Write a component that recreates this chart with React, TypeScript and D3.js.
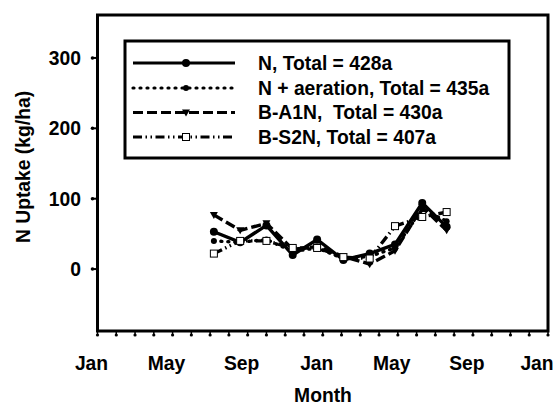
import React from "react";
import * as d3 from "d3";

const monthPos = [6.2, 7.6, 9.0, 10.4, 11.7, 13.1, 14.5, 15.85, 17.3, 18.6];
const seriesN = [53, 38, 62, 20, 42, 13, 22, 35, 94, 60];
const seriesNAer = [40, 38, 42, 25, 30, 15, 18, 30, 85, 68];
const seriesBA1N = [77, 55, 65, 28, 32, 18, 7, 26, 88, 55];
const seriesBS2N = [22, 40, 40, 30, 30, 17, 15, 61, 74, 81];
const xTickLabels = ["Jan", "May", "Sep", "Jan", "May", "Sep", "Jan"];
const yTicks = [0, 100, 200, 300];
const legendLabels = [
  "N, Total = 428a",
  "N + aeration, Total = 435a",
  "B-A1N,  Total = 430a",
  "B-S2N, Total = 407a",
];

const W = 560, H = 407;
const L = 97.5, R = 548, T = 15, B = 331;
const FONT = "'Liberation Sans', Arial, sans-serif";
const FS = 19.3;

type Style = { dash: string; cap: "round" | "butt"; marker: "circle" | "smallcircle" | "tri" | "square" };
const styles: Style[] = [
  { dash: "none", cap: "butt", marker: "circle" },
  { dash: "1,6", cap: "round", marker: "smallcircle" },
  { dash: "10,4", cap: "butt", marker: "tri" },
  { dash: "9,3.5,1.5,3.5,1.5,3.5", cap: "butt", marker: "square" },
];

function Marker({ kind, x, y }: { kind: Style["marker"]; x: number; y: number }) {
  if (kind === "circle") return <circle cx={x} cy={y} r={4} fill="#000" />;
  if (kind === "smallcircle") return <circle cx={x} cy={y} r={3} fill="#000" />;
  if (kind === "tri")
    return <path d={`M${x - 4},${y - 3} L${x + 4},${y - 3} L${x},${y + 4} Z`} fill="#000" />;
  return <rect x={x - 3.5} y={y - 3.5} width={7} height={7} fill="#fff" stroke="#000" strokeWidth={1} />;
}

export default function App() {
  const x = d3.scaleLinear().domain([0, 24]).range([L, R]);
  const y = d3.scaleLinear().domain([-88, 361]).range([B, T]);
  const all = [seriesN, seriesNAer, seriesBA1N, seriesBS2N];
  const line = d3
    .line<number>()
    .x((_, i) => x(monthPos[i]))
    .y((d) => y(d));
  const months = d3.range(0, 25);
  const legY = [63, 88, 112.5, 137];

  return (
    <svg width={W} height={H} style={{ position: "absolute", left: 0, top: 0, background: "#fff" }}>
      <rect x={0} y={0} width={W} height={H} fill="#fff" />
      {months.map((m) => (
        <g key={m}>
          <line x1={x(m)} x2={x(m)} y1={B} y2={B + 4} stroke="#000" strokeWidth={1.5} />
          <circle cx={x(m)} cy={B + 4} r={1.6} fill="#000" />
        </g>
      ))}
      {yTicks.map((v) => (
        <g key={v}>
          <line x1={L - 5} x2={L} y1={y(v)} y2={y(v)} stroke="#000" strokeWidth={2} />
          <circle cx={L - 5} cy={y(v)} r={1.8} fill="#000" />
          <text x={81} y={y(v)} dy="0.36em" textAnchor="end" fontFamily={FONT} fontWeight="bold" fontSize={FS}>
            {v}
          </text>
        </g>
      ))}
      <rect x={L} y={T} width={R - L} height={B - T} fill="none" stroke="#000" strokeWidth={3} />
      {xTickLabels.map((t, i) => (
        <text
          key={i}
          x={x(i * 4) - (i === xTickLabels.length - 1 ? 11 : 6)}
          y={370}
          textAnchor="middle"
          fontFamily={FONT}
          fontWeight="bold"
          fontSize={FS}
        >
          {t}
        </text>
      ))}
      <text x={323} y={402} textAnchor="middle" fontFamily={FONT} fontWeight="bold" fontSize={FS}>
        Month
      </text>
      <text
        transform={`translate(30,${167}) rotate(-90)`}
        textAnchor="middle"
        fontFamily={FONT}
        fontWeight="bold"
        fontSize={FS}
      >
        N Uptake (kg/ha)
      </text>
      {all.map((s, k) => (
        <g key={k}>
          <path
            d={line(s) || ""}
            fill="none"
            stroke="#000"
            strokeWidth={3.4}
            strokeDasharray={styles[k].dash}
            strokeLinecap={styles[k].cap}
          />
          {s.map((v, i) => (
            <Marker key={i} kind={styles[k].marker} x={x(monthPos[i])} y={y(v)} />
          ))}
        </g>
      ))}
      <rect x={125} y={41} width={384} height={117} fill="#fff" stroke="#000" strokeWidth={3} />
      {legendLabels.map((t, k) => (
        <g key={k}>
          <line
            x1={133}
            x2={235}
            y1={legY[k]}
            y2={legY[k]}
            stroke="#000"
            strokeWidth={3.2}
            strokeDasharray={styles[k].dash}
            strokeLinecap={styles[k].cap}
          />
          <Marker kind={styles[k].marker} x={186} y={legY[k]} />
          <text
            x={258}
            y={legY[k]}
            dy="0.36em"
            fontFamily={FONT}
            fontWeight="bold"
            fontSize={FS}
            style={{ whiteSpace: "pre" }}
          >
            {t}
          </text>
        </g>
      ))}
    </svg>
  );
}
